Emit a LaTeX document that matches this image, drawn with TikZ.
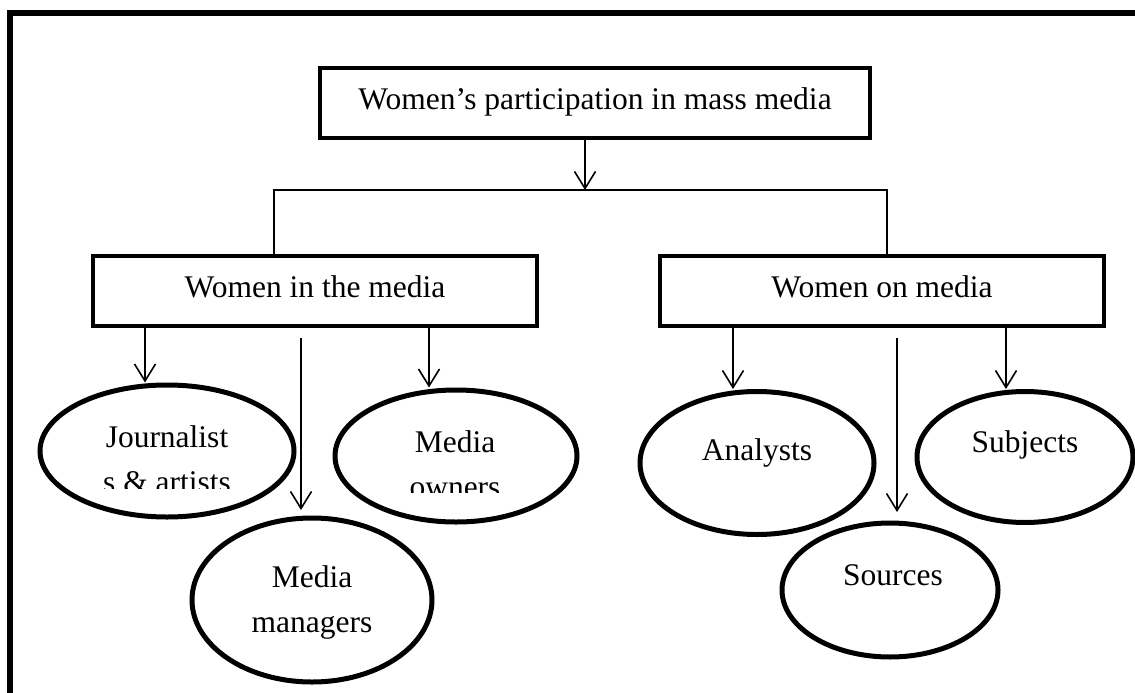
\documentclass[tikz,border=0pt]{standalone}
\usepackage{fontspec}
\setmainfont{Liberation Serif}
\usetikzlibrary{shapes.geometric,arrows.meta}
\begin{document}
\begin{tikzpicture}[x=1pt,y=-1pt,
  box/.style={draw,line width=4.5pt,inner sep=0pt},
  oval/.style={draw,ellipse,line width=5pt,inner sep=0pt},
  arr/.style={line width=1.6pt,-{Straight Barb[length=17pt,width=21pt,line width=1.6pt]}},
  con/.style={line width=1.8pt},
  lbl/.style={font=\fontsize{31.5}{36}\selectfont,inner sep=0pt,anchor=base}]
\useasboundingbox (0,0) rectangle (1135,693);
\clip (0,0) rectangle (1135,693);
% frame
\draw[line width=5.5pt] (10,760) -- (10,13) -- (1180,13);
% boxes
\node[box,minimum width=550pt,minimum height=70pt] (top) at (595,103) {};
\node[lbl] (toptxt) at (595,109) {Women’s participation in mass media};
\node[box,minimum width=444pt,minimum height=70pt] (lbox) at (315,291) {};
\node[lbl] (ltxt) at (315,297) {Women in the media};
\node[box,minimum width=444pt,minimum height=70pt] (rbox) at (882,291) {};
\node[lbl] (rtxt) at (882,297) {Women on media};
% ellipses
\node[oval,minimum width=254pt,minimum height=132pt] (jour) at (167,451) {};
\node[oval,minimum width=242pt,minimum height=132pt] (own) at (456,456) {};
\node[oval,minimum width=240pt,minimum height=164pt] (man) at (312,600) {};
\node[oval,minimum width=234pt,minimum height=143pt] (ana) at (757,463) {};
\node[oval,minimum width=216pt,minimum height=134pt] (sou) at (890,590) {};
\node[oval,minimum width=216pt,minimum height=131pt] (sub) at (1025,457) {};
% ellipse texts
\node[lbl] (jour1) at (167,447) {Journalist};
\begin{scope}
  \clip (60,455) rectangle (280,488);
  \node[lbl] (jour2) at (167,492) {s \& artists};
\end{scope}
\node[lbl] (own1) at (455,452) {Media};
\begin{scope}
  \clip (350,460) rectangle (560,492);
  \node[lbl] (own2) at (455,497) {owners};
\end{scope}
\node[lbl] (man1) at (312,587) {Media};
\node[lbl] (man2) at (312,632) {managers};
\node[lbl] (ana1) at (757,460) {Analysts};
\node[lbl] (sou1) at (893,585) {Sources};
\node[lbl] (sub1) at (1025,452) {Subjects};
% connectors
\coordinate (hub) at (585,190);
\coordinate (hl) at (274,190);
\coordinate (hr) at (887,190);
\draw[arr] (top.south -| hub) -- (hub);
\draw[con] (lbox.north -| hl) -- (hl) -- (hr) -- (rbox.north -| hr);
\coordinate (xa) at (145,0);
\coordinate (xc) at (429,0);
\coordinate (xd) at (733,0);
\coordinate (xf) at (1006,0);
\coordinate (mstart) at (301,338);
\coordinate (mend) at (301,510);
\coordinate (sstart) at (897,338);
\coordinate (send) at (897,512);
\draw[arr] (lbox.south -| xa) -- (jour.north -| xa);
\draw[arr] (mstart) -- (mend);
\draw[arr] (lbox.south -| xc) -- (own.north -| xc);
\draw[arr] (rbox.south -| xd) -- (ana.north -| xd);
\draw[arr] (sstart) -- (send);
\draw[arr] (rbox.south -| xf) -- (sub.north -| xf);
\end{tikzpicture}
\end{document}
